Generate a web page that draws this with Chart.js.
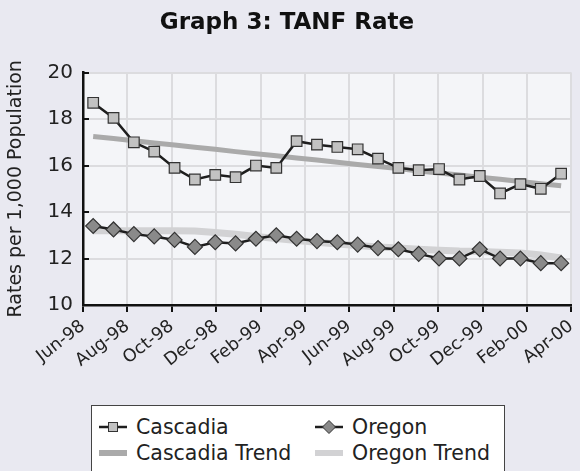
<!DOCTYPE html>
<html>
<head>
<meta charset="utf-8">
<script src="https://cdn.jsdelivr.net/npm/chart.js@4/dist/chart.umd.min.js"></script>
<style>
  html, body { margin: 0; padding: 0; background: #e9e9f1; }
  #wrap { position: relative; width: 580px; height: 471px; overflow: hidden; }
  #box { position: absolute; left: 0; top: 0; width: 580px; height: 400px; }
  #legend {
    position: absolute; left: 91px; top: 405px; width: 412px; height: 90px;
    background: #fff; border: 1.5px solid #444;
    font-family: "DejaVu Sans", sans-serif; font-size: 20.5px; color: #222;
  }
  .item { position: absolute; display: flex; align-items: center; white-space: nowrap; }
  .item svg { margin-right: 8px; }
</style>
</head>
<body>
<div id="wrap">
  <div id="box"><canvas id="chart" width="580" height="400"></canvas></div>
  <div id="legend"></div>
</div>
<script>
// データ ---------------
const months = [
  "Jun-98", "Jul-98", "Aug-98", "Sep-98", "Oct-98", "Nov-98", "Dec-98", "Jan-99",
  "Feb-99", "Mar-99", "Apr-99", "May-99", "Jun-99", "Jul-99", "Aug-99", "Sep-99",
  "Oct-99", "Nov-99", "Dec-99", "Jan-00", "Feb-00", "Mar-00", "Apr-00", "May-00"
];
const tickLabels = [
  "Jun-98", "Aug-98", "Oct-98", "Dec-98", "Feb-99", "Apr-99",
  "Jun-99", "Aug-99", "Oct-99", "Dec-99", "Feb-00", "Apr-00"
];
const cascadia = [
  18.7, 18.05, 17.0, 16.6, 15.9, 15.4, 15.6, 15.5, 16.0, 15.9, 17.05, 16.9,
  16.8, 16.7, 16.3, 15.9, 15.8, 15.85, 15.4, 15.55, 14.8, 15.2, 15.0, 15.65
];
const oregon = [
  13.4, 13.25, 13.05, 12.95, 12.8, 12.5, 12.7, 12.65, 12.85, 13.0, 12.85, 12.75,
  12.7, 12.6, 12.45, 12.4, 12.2, 12.0, 12.0, 12.4, 12.0, 12.0, 11.8, 11.8
];
const cascadiaTrend = [
  17.25, 17.16, 17.07, 16.97, 16.88, 16.79, 16.70, 16.60, 16.51, 16.42, 16.33, 16.24,
  16.14, 16.05, 15.96, 15.87, 15.77, 15.68, 15.59, 15.50, 15.41, 15.31, 15.22, 15.13
];
const oregonTrend = [
  13.2, 13.2, 13.2, 13.2, 13.2, 13.18, 13.12, 13.04, 12.95, 12.86, 12.78, 12.7,
  12.62, 12.56, 12.5, 12.45, 12.4, 12.36, 12.32, 12.3, 12.27, 12.24, 12.15, 12.02
];
const yTicks = [10, 12, 14, 16, 18, 20];

const FONT = "'DejaVu Sans', sans-serif";

// 描画領域の背景 & 内向き目盛り
const plotBg = {
  id: "plotBg",
  beforeDraw(chart) {
    const { ctx, chartArea: a } = chart;
    ctx.save();
    ctx.fillStyle = "#f4f5f8";
    ctx.fillRect(a.left, a.top, a.right - a.left, a.bottom - a.top);
    ctx.restore();
  },
  afterDraw(chart) {
    const { ctx, chartArea: a } = chart;
    const y = chart.scales.y;
    ctx.save();
    ctx.strokeStyle = "#111";
    ctx.lineWidth = 2;
    yTicks.forEach(v => {
      const py = Math.round(y.getPixelForValue(v));
      ctx.beginPath();
      ctx.moveTo(a.left, py);
      ctx.lineTo(a.left + 6, py);
      ctx.stroke();
    });
    ctx.restore();
  }
};

const chart = new Chart(document.getElementById("chart"), {
  type: "line",
  data: {
    labels: months,
    datasets: [
      {
        label: "Cascadia", data: cascadia, xAxisID: "x",
        borderColor: "#1e1e1e", borderWidth: 2.5,
        pointStyle: "rect", pointRadius: 7.5, pointHoverRadius: 7.5,
        pointBackgroundColor: "#c2c2c2", pointBorderColor: "#333", pointBorderWidth: 1.2
      },
      {
        label: "Oregon", data: oregon, xAxisID: "x",
        borderColor: "#1e1e1e", borderWidth: 2.5,
        pointStyle: "rectRot", pointRadius: 7.5, pointHoverRadius: 7.5,
        pointBackgroundColor: "#8a8a8a", pointBorderColor: "#333", pointBorderWidth: 1.2
      },
      {
        label: "Cascadia Trend", data: cascadiaTrend, xAxisID: "x",
        borderColor: "#aaaaaa", borderWidth: 5, pointRadius: 0
      },
      {
        label: "Oregon Trend", data: oregonTrend, xAxisID: "x",
        borderColor: "#d2d2d4", borderWidth: 7, pointRadius: 0
      }
    ]
  },
  options: {
    responsive: false,
    animation: false,
    layout: { padding: { left: 0, right: 6, top: 0, bottom: 0 } },
    plugins: {
      legend: { display: false },
      tooltip: { enabled: false },
      title: {
        display: true,
        text: "Graph 3: TANF Rate",
        color: "#111",
        font: { family: FONT, size: 23, weight: "bold" },
        padding: { top: 9, bottom: 36 }
      }
    },
    scales: {
      x: {
        type: "category",
        display: false,
        offset: true
      },
      x2: {
        type: "category",
        position: "bottom",
        labels: tickLabels,
        offset: false,
        grid: { color: "#dcdcdf", lineWidth: 2, tickColor: "#111", tickLength: 7, tickWidth: 2 },
        border: { color: "#111", width: 2.5 },
        ticks: {
          color: "#222", font: { family: FONT, size: 17.5 },
          maxRotation: 38, minRotation: 38, autoSkip: false, padding: 4
        },
        afterFit(s) {
          s.height = 95;
          s.paddingLeft = 0;
          s.paddingRight = 0;
        }
      },
      y: {
        min: 10, max: 20,
        afterBuildTicks(s) { s.ticks = yTicks.map(v => ({ value: v })); },
        grid: { color: "#dcdcdf", lineWidth: 2, tickLength: 0 },
        border: { color: "#111", width: 2.5 },
        ticks: { color: "#222", font: { family: FONT, size: 20 }, padding: 10 },
        title: {
          display: true, text: "Rates per 1,000 Population", color: "#222",
          font: { family: FONT, size: 19 }, padding: { top: 5, bottom: 0 }
        },
        afterFit(s) { s.width = 83; }
      }
    }
  },
  plugins: [plotBg]
});

// 凡例（HTML） ---------------
function markerSvg(ds) {
  if (ds.pointRadius === 0) {
    return `<svg width="30" height="12"><line x1="1" y1="6" x2="29" y2="6" stroke="${ds.borderColor}" stroke-width="6"/></svg>`;
  }
  const shape = ds.pointStyle === "rect"
    ? `<rect x="10.5" y="2.5" width="9" height="9" fill="${ds.pointBackgroundColor}" stroke="#333" stroke-width="1"/>`
    : `<polygon points="15,0.5 21.5,7 15,13.5 8.5,7" fill="${ds.pointBackgroundColor}" stroke="#333" stroke-width="1"/>`;
  return `<svg width="30" height="14"><line x1="1" y1="7" x2="29" y2="7" stroke="#1e1e1e" stroke-width="2.5"/>${shape}</svg>`;
}

const legendPos = [
  { left: 6, top: 9 }, { left: 222, top: 9 },
  { left: 6, top: 35 }, { left: 222, top: 35 }
];
const legendEl = document.getElementById("legend");
chart.data.datasets.forEach((ds, i) => {
  const div = document.createElement("div");
  div.className = "item";
  div.style.left = legendPos[i].left + "px";
  div.style.top = legendPos[i].top + "px";
  div.innerHTML = markerSvg(ds) + `<span>${ds.label}</span>`;
  legendEl.appendChild(div);
});
</script>
</body>
</html>
